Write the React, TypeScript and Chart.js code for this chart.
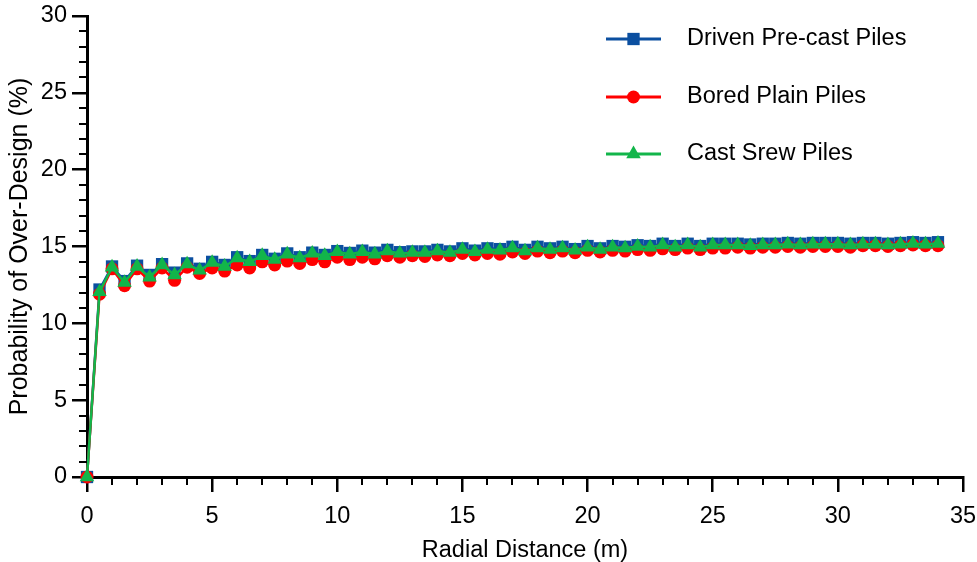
import React, { useEffect, useRef } from "react";
import { Chart, registerables } from "chart.js";

Chart.register(...registerables);

const radialDistance = [
  0, 0.5, 1, 1.5, 2, 2.5, 3, 3.5, 4, 4.5, 5, 5.5, 6, 6.5, 7, 7.5, 8, 8.5, 9, 9.5,
  10, 10.5, 11, 11.5, 12, 12.5, 13, 13.5, 14, 14.5, 15, 15.5, 16, 16.5, 17, 17.5,
  18, 18.5, 19, 19.5, 20, 20.5, 21, 21.5, 22, 22.5, 23, 23.5, 24, 24.5, 25, 25.5,
  26, 26.5, 27, 27.5, 28, 28.5, 29, 29.5, 30, 30.5, 31, 31.5, 32, 32.5, 33, 33.5, 34,
];

const drivenPrecast = [
  0, 12.2, 13.7, 12.75, 13.75, 13.15, 13.85, 13.3, 13.9, 13.55, 14.0, 13.8, 14.3, 14.05, 14.45, 14.2,
  14.55, 14.3, 14.6, 14.45, 14.7, 14.58, 14.73, 14.6, 14.78, 14.63, 14.68, 14.68, 14.78, 14.68, 14.88,
  14.73, 14.88, 14.83, 14.98, 14.78, 14.98, 14.88, 14.98, 14.83, 15.03, 14.88, 15.03, 14.98, 15.08,
  15.03, 15.18, 15.03, 15.18, 15.03, 15.18, 15.18, 15.18, 15.13, 15.18, 15.18, 15.23, 15.18, 15.23,
  15.23, 15.23, 15.18, 15.23, 15.23, 15.18, 15.23, 15.28, 15.23, 15.28,
];

const boredPlain = [
  0, 11.9, 13.55, 12.45, 13.55, 12.75, 13.6, 12.8, 13.65, 13.25, 13.6, 13.4, 13.8, 13.6, 14.0, 13.8,
  14.05, 13.9, 14.15, 14.0, 14.3, 14.15, 14.3, 14.2, 14.4, 14.3, 14.4, 14.35, 14.45, 14.4, 14.55,
  14.45, 14.55, 14.5, 14.65, 14.55, 14.7, 14.6, 14.7, 14.6, 14.75, 14.65, 14.75, 14.7, 14.8, 14.75,
  14.85, 14.8, 14.9, 14.8, 14.9, 14.9, 14.95, 14.9, 14.95, 14.95, 15.0, 14.95, 15.0, 15.0, 15.0,
  14.95, 15.05, 15.05, 15.0, 15.05, 15.1, 15.05, 15.05,
];

const castScrew = [
  0, 12.05, 13.65, 12.65, 13.7, 13.0, 13.8, 13.15, 13.85, 13.45, 13.95, 13.7, 14.25, 14.0, 14.4, 14.15,
  14.5, 14.25, 14.55, 14.4, 14.65, 14.5, 14.65, 14.5, 14.7, 14.55, 14.6, 14.6, 14.7, 14.6, 14.8,
  14.65, 14.8, 14.75, 14.9, 14.7, 14.9, 14.8, 14.9, 14.75, 14.95, 14.8, 14.95, 14.9, 15.0, 14.95,
  15.1, 14.95, 15.1, 14.95, 15.1, 15.1, 15.1, 15.05, 15.1, 15.1, 15.15, 15.1, 15.15, 15.15, 15.15,
  15.1, 15.15, 15.15, 15.1, 15.15, 15.2, 15.15, 15.2,
];

const seriesLabels = ["Driven Pre-cast Piles", "Bored Plain Piles", "Cast Srew Piles"];
const seriesColors = ["#0B4FA0", "#FF0000", "#12B54A"];
const seriesShapes = ["rect", "circle", "triangle"];
const seriesRadius = [8.7, 6.5, 8.4];

const FONT = '"Liberation Sans", Arial, sans-serif';

function drawMarker(ctx: CanvasRenderingContext2D, shape: string, x: number, y: number, r: number, color: string) {
  ctx.fillStyle = color;
  ctx.beginPath();
  if (shape === "rect") {
    const s = Math.SQRT1_2 * r;
    ctx.rect(x - s, y - s, 2 * s, 2 * s);
  } else if (shape === "circle") {
    ctx.arc(x, y, r, 0, Math.PI * 2);
  } else {
    let rad = 0;
    ctx.moveTo(x + Math.sin(rad) * r, y - Math.cos(rad) * r);
    rad += (2 * Math.PI) / 3;
    ctx.lineTo(x + Math.sin(rad) * r, y - Math.cos(rad) * r);
    rad += (2 * Math.PI) / 3;
    ctx.lineTo(x + Math.sin(rad) * r, y - Math.cos(rad) * r);
    ctx.closePath();
  }
  ctx.fill();
}

const minorTicksPlugin = {
  id: "minorTicks",
  afterDraw(chart: any) {
    const ctx = chart.ctx as CanvasRenderingContext2D;
    const xs = chart.scales.x;
    const ys = chart.scales.y;
    const area = chart.chartArea;
    ctx.save();
    ctx.strokeStyle = "#000";
    ctx.lineWidth = 2;
    for (let v = 0; v <= 35; v++) {
      if (v % 5 === 0) continue;
      const px = Math.round(xs.getPixelForValue(v));
      ctx.beginPath();
      ctx.moveTo(px, area.bottom);
      ctx.lineTo(px, area.bottom + 8);
      ctx.stroke();
    }
    for (let v = 0; v <= 30; v++) {
      if (v % 5 === 0) continue;
      const py = Math.round(ys.getPixelForValue(v));
      ctx.beginPath();
      ctx.moveTo(area.left, py);
      ctx.lineTo(area.left - 8, py);
      ctx.stroke();
    }
    ctx.restore();
  },
};

const legendPlugin = {
  id: "lineLegend",
  afterDraw(chart: any) {
    const ctx = chart.ctx as CanvasRenderingContext2D;
    const rows = [39, 97, 154];
    ctx.save();
    seriesLabels.forEach((label, i) => {
      const y = rows[i];
      ctx.strokeStyle = seriesColors[i];
      ctx.lineWidth = 3;
      ctx.beginPath();
      ctx.moveTo(606, y);
      ctx.lineTo(661, y);
      ctx.stroke();
      drawMarker(ctx, seriesShapes[i], 633.5, y, seriesRadius[i], seriesColors[i]);
      ctx.fillStyle = "#000";
      ctx.font = `23.5px ${FONT}`;
      ctx.textBaseline = "middle";
      ctx.textAlign = "left";
      ctx.fillText(label, 687, y);
    });
    ctx.restore();
  },
};

export default function App() {
  const canvasRef = useRef<HTMLCanvasElement>(null);

  useEffect(() => {
    const seriesData = [drivenPrecast, boredPlain, castScrew];
    const chart = new Chart(canvasRef.current as HTMLCanvasElement, {
      type: "line",
      data: {
        labels: radialDistance,
        datasets: seriesLabels.map((label, i) => ({
          label,
          data: radialDistance.map((x, j) => ({ x, y: seriesData[i][j] })),
          borderColor: seriesColors[i],
          backgroundColor: seriesColors[i],
          pointBackgroundColor: seriesColors[i],
          pointBorderColor: seriesColors[i],
          pointBorderWidth: 0,
          pointStyle: seriesShapes[i] as any,
          pointRadius: seriesRadius[i],
          borderWidth: 2.5,
          tension: 0,
          clip: false as any,
          order: 3 - i,
        })),
      },
      options: {
        responsive: false,
        devicePixelRatio: 1,
        animation: false,
        layout: { padding: { top: 16, right: 14, left: 0, bottom: 0 } },
        plugins: { legend: { display: false }, tooltip: { enabled: false } },
        scales: {
          x: {
            type: "linear",
            min: 0,
            max: 35,
            afterFit: (scale: any) => {
              scale.height = 85;
              scale.paddingLeft = 0;
              scale.paddingRight = 0;
            },
            ticks: {
              stepSize: 5,
              color: "#000",
              font: { family: FONT, size: 23.5 },
              padding: 10,
              maxRotation: 0,
            },
            grid: {
              display: true,
              drawOnChartArea: false,
              drawTicks: true,
              tickLength: 15,
              color: "#000",
              lineWidth: 2.5,
            },
            border: { display: true, color: "#000", width: 3 },
            title: {
              display: true,
              text: "Radial Distance (m)",
              color: "#000",
              font: { family: FONT, size: 23.5, lineHeight: 1.0 },
              padding: { top: 0, bottom: 0 },
            },
          },
          y: {
            type: "linear",
            min: 0,
            max: 30,
            afterFit: (scale: any) => {
              scale.width = 87;
              scale.paddingTop = 0;
              scale.paddingBottom = 0;
            },
            ticks: {
              stepSize: 5,
              color: "#000",
              font: { family: FONT, size: 23.5 },
              padding: 5,
            },
            grid: {
              display: true,
              drawOnChartArea: false,
              drawTicks: true,
              tickLength: 15,
              color: "#000",
              lineWidth: 2.5,
            },
            border: { display: true, color: "#000", width: 3 },
            title: {
              display: true,
              text: "Probability of Over-Design (%)",
              color: "#000",
              font: { family: FONT, size: 25 },
              padding: { top: 5, bottom: 0 },
            },
          },
        },
      },
      plugins: [minorTicksPlugin, legendPlugin],
    });
    return () => chart.destroy();
  }, []);

  return (
    <div style={{ position: "absolute", left: 0, top: 0, width: 977, height: 562 }}>
      <canvas ref={canvasRef} width={977} height={562} style={{ display: "block" }} />
    </div>
  );
}
